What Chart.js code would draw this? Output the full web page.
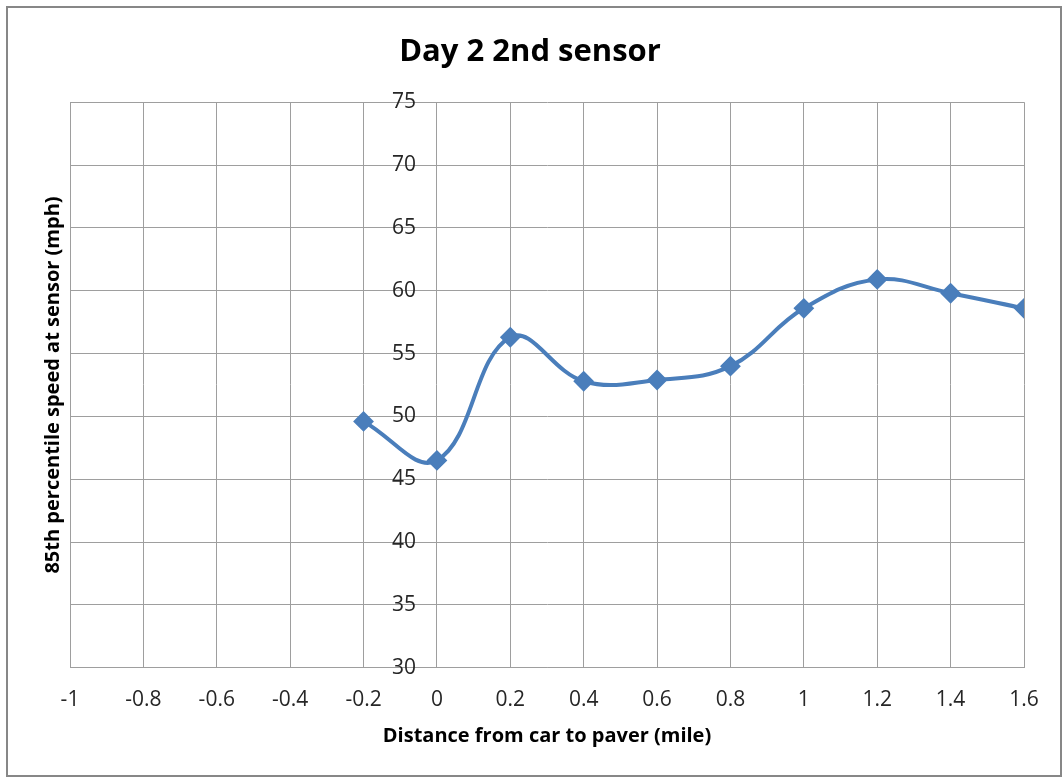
<!DOCTYPE html>
<html>
<head>
<meta charset="utf-8">
<title>Day 2 2nd sensor</title>
<script src="https://cdn.jsdelivr.net/npm/chart.js@4.4.0/dist/chart.umd.min.js"></script>
<style>
    body { margin: 0; background: #fff; }
    #wrap { position: relative; width: 1063px; height: 782px; }
    #frame {
        position: absolute; left: 6px; top: 6px; width: 1052px; height: 767px;
        border: 2px solid #878787; pointer-events: none;
    }
</style>
</head>
<body>
<div id="wrap">
    <canvas id="line-chart" width="1063" height="782"></canvas>
    <div id="frame"></div>
</div>
<script>
// distance from car to paver (mile)
var distances = [-0.2, 0, 0.2, 0.4, 0.6, 0.8, 1.0, 1.2, 1.4, 1.6];
// 85th percentile speed (mph)
var speeds = [49.6, 46.5, 56.3, 52.8, 52.9, 54.0, 58.6, 60.9, 59.8, 58.6];

var xMin = -1, xMax = 1.6, xStep = 0.2;
var yMin = 30, yMax = 75, yStep = 5;

var FONT = "'Open Sans', 'DejaVu Sans', sans-serif";

// Excel puts the value labels next to the vertical axis, which crosses at x = 0
var axisLabelsAtZero = {
    id: 'axisLabelsAtZero',
    beforeDatasetsDraw: function(chart) {
        var ctx = chart.ctx;
        var xs = chart.scales.x, ys = chart.scales.y;
        var x0 = xs.getPixelForValue(0);
        ctx.save();
        ctx.font = '21px ' + FONT;
        ctx.fillStyle = '#262626';
        ctx.textAlign = 'right';
        ctx.textBaseline = 'middle';
        ys.ticks.forEach(function(t) {
            ctx.fillText(String(t.value), x0 - 21, ys.getPixelForValue(t.value));
        });
        ctx.restore();
    }
};

var points = distances.map(function(d, i) { return { x: d, y: speeds[i] }; });

var ctx = document.getElementById('line-chart').getContext('2d');
var myChart = new Chart(ctx, {
    type: 'line',
    data: {
        datasets: [{
            data: points,
            borderColor: '#4a7ebb',
            backgroundColor: '#4a7ebb',
            borderWidth: 4,
            tension: 0.4,
            pointStyle: 'rectRot',
            pointRadius: 9,
            pointBorderWidth: 2,
            pointBackgroundColor: '#4a7ebb',
            pointBorderColor: '#4a7ebb'
        }]
    },
    options: {
        responsive: false,
        animation: false,
        layout: { padding: { left: 36, right: 39, top: 0, bottom: 34 } },
        plugins: {
            legend: { display: false },
            tooltip: { enabled: false },
            title: {
                display: true,
                text: 'Day 2 2nd sensor',
                color: '#000',
                font: { family: FONT, size: 31, weight: 'bold' },
                padding: { top: 34, bottom: 31 }
            }
        },
        scales: {
            x: {
                type: 'linear',
                min: xMin,
                max: xMax,
                border: { color: '#9e9e9e' },
                grid: { color: '#9e9e9e', drawTicks: false },
                ticks: {
                    stepSize: xStep,
                    padding: 20,
                    color: '#262626',
                    font: { family: FONT, size: 21 },
                    callback: function(v) { return String(Math.round(v * 10) / 10); }
                },
                title: {
                    display: true,
                    text: 'Distance from car to paver (mile)',
                    color: '#000',
                    font: { family: FONT, size: 20, weight: 'bold' },
                    padding: { top: -9, bottom: 0 }
                }
            },
            y: {
                min: yMin,
                max: yMax,
                border: { color: '#9e9e9e' },
                grid: { color: '#9e9e9e', drawTicks: false },
                ticks: { stepSize: yStep, display: false },
                title: {
                    display: true,
                    text: '85th percentile speed at sensor (mph)',
                    color: '#000',
                    font: { family: FONT, size: 20, weight: 'bold' },
                    padding: { top: 5, bottom: 5 }
                }
            }
        }
    },
    plugins: [axisLabelsAtZero]
});
</script>
</body>
</html>
